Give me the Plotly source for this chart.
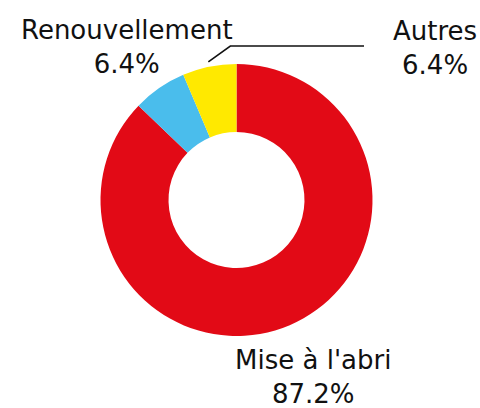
import math
import plotly.graph_objects as go

labels = ["Mise à l'abri", "Renouvellement", "Autres"]
values = [87.2, 6.4, 6.4]
colors = ["#E20A16", "#4ABDEC", "#FFE900"]

W, H = 480, 408
cx, cy, R = 236.5, 200.0, 136.0  # pixel geometry of the donut

fig = go.Figure(go.Pie(
    labels=labels,
    values=values,
    hole=0.5,
    sort=False,
    direction="clockwise",
    rotation=0,
    marker=dict(colors=colors, line=dict(width=0)),
    textinfo="none",
    hoverinfo="label+percent",
    showlegend=False,
    domain=dict(x=[(cx - R) / W, (cx + R) / W], y=[(H - cy - R) / H, (H - cy + R) / H]),
))

font = dict(family="DejaVu Sans, sans-serif", size=26, color="#111111")
total = sum(values)
pct = [f"{v / total * 100:.1f}%" for v in values]

label_pos = {
    "Renouvellement": (127, 47),
    "Autres": (435, 48),
    "Mise à l'abri": (313, 377),
}
for lab, p in zip(labels, pct):
    px, py = label_pos[lab]
    fig.add_annotation(
        x=px / W, y=(H - py) / H, xref="paper", yref="paper",
        text=f"{lab}<br>{p}", showarrow=False, font=font,
        xanchor="center", yanchor="middle", align="center",
    )

# leader line for "Autres" from the middle of its slice
start = sum(values[:2]) / total * 360
mid = math.radians(start + values[2] / total * 180)
r0 = R + 5
x0, y0 = cx + r0 * math.sin(mid), cy - r0 * math.cos(mid)
x1, y1 = x0 + 22, 46
x2 = 364
fig.add_shape(
    type="path", xref="paper", yref="paper",
    path=f"M {x0 / W},{(H - y0) / H} L {x1 / W},{(H - y1) / H} L {x2 / W},{(H - y1) / H}",
    line=dict(color="#111111", width=1.6),
)

fig.update_layout(
    width=W, height=H,
    margin=dict(l=0, r=0, t=0, b=0),
    paper_bgcolor="white", plot_bgcolor="white",
)
fig.write_html(
    "out.html",
    config={"displayModeBar": False},
    post_script="document.body.style.margin='0';document.body.style.overflow='hidden';",
)
